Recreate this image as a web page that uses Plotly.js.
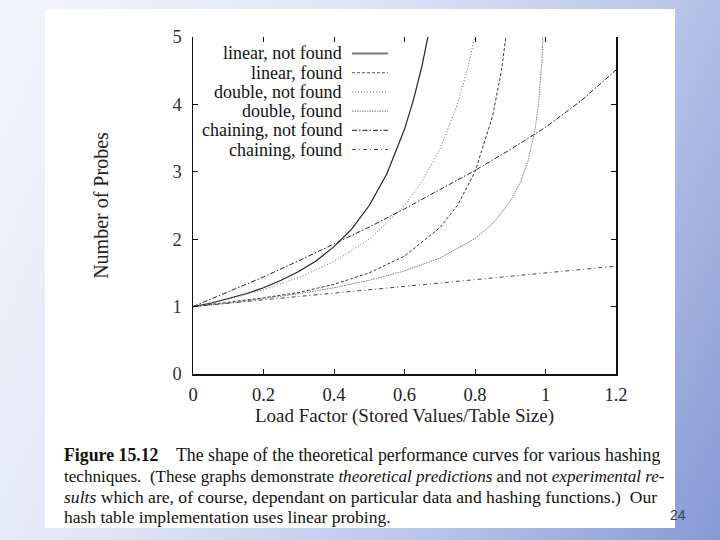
<!DOCTYPE html>
<html><head><meta charset="utf-8">
<script src="https://cdn.plot.ly/plotly-3.0.1.min.js"></script>
<style>
html,body{margin:0;padding:0;width:720px;height:540px;overflow:hidden;}
body{background:linear-gradient(115deg,#f4f5fc 0%,#e2e6f6 35%,#bcc7ea 68%,#8599d4 100%);}
#panel{position:absolute;left:45px;top:9px;width:630px;height:519px;background:#fff;}
#chart{position:absolute;left:0;top:0;width:720px;height:540px;}
</style></head><body>
<div id="panel"></div><div id="chart"></div>
<script>
// ---- data ----
const seriesNames = ['linear, not found','linear, found','double, not found','double, found','chaining, not found','chaining, found'];

const linearNotFoundX = [0,0.05,0.1,0.15,0.2,0.25,0.3,0.35,0.4,0.45,0.5,0.55,0.6,0.625,0.65,0.67];
const linearNotFoundY = [1.00,1.05,1.12,1.19,1.28,1.39,1.52,1.68,1.89,2.15,2.50,2.97,3.63,4.06,4.58,5.10];

const linearFoundX = [0,0.1,0.2,0.3,0.4,0.5,0.6,0.7,0.75,0.8,0.85,0.875,0.9];
const linearFoundY = [1.00,1.06,1.13,1.21,1.33,1.50,1.75,2.17,2.50,3.00,3.83,4.50,5.50];

const doubleNotFoundX = [0,0.1,0.2,0.3,0.4,0.5,0.6,0.65,0.7,0.75,0.78,0.81];
const doubleNotFoundY = [1.00,1.11,1.25,1.43,1.67,2.00,2.50,2.86,3.33,4.00,4.55,5.26];

const doubleFoundX = [0,0.1,0.2,0.3,0.4,0.5,0.6,0.7,0.8,0.85,0.9,0.93,0.95,0.97,0.98,0.99,0.995];
const doubleFoundY = [1.00,1.05,1.12,1.19,1.28,1.39,1.53,1.72,2.01,2.23,2.56,2.86,3.15,3.62,3.99,4.65,5.33];

const chainingNotFoundX = [0,0.1,0.2,0.3,0.4,0.5,0.6,0.7,0.8,0.9,1.0,1.1,1.2];
const chainingNotFoundY = [1.00,1.22,1.44,1.68,1.93,2.18,2.45,2.73,3.02,3.33,3.66,4.05,4.51];

const chainingFoundX = [0,0.2,0.4,0.6,0.8,1.0,1.2];
const chainingFoundY = [1.00,1.10,1.20,1.30,1.40,1.50,1.60];

const xTickVals = [0,0.2,0.4,0.6,0.8,1,1.2];
const xTickText = ['0','0.2','0.4','0.6','0.8','1','1.2'];
const yTickVals = [0,1,2,3,4,5];

const captionLines = [
  '<b>Figure 15.12</b>\u00a0\u00a0\u00a0 The shape of the theoretical performance curves for various hashing',
  'techniques.\u00a0 (These graphs demonstrate <i>theoretical predictions</i> and not <i>experimental re-</i>',
  '<i>sults</i> which are, of course, dependant on particular data and hashing functions.)\u00a0 Our',
  'hash table implementation uses linear probing.'
];
const captionSizes = [17.8, 17.1, 17.6, 17.5];

// ---- styling ----
const styles = [
  {color:'#222', width:1.2, dash:'solid', legColor:'#777', legWidth:2.2},
  {color:'#333', width:1.0, dash:'3px,2px', legColor:'#555', legWidth:1},
  {color:'#666', width:1.0, dash:'1px,2px', legColor:'#666', legWidth:1},
  {color:'#777', width:1.0, dash:'1.5px,1px', legColor:'#777', legWidth:1},
  {color:'#222', width:1.0, dash:'5px,2px,1.5px,2px', legColor:'#444', legWidth:1.2},
  {color:'#444', width:1.0, dash:'4px,3px,1px,3px', legColor:'#555', legWidth:1}
];
const xs = [linearNotFoundX,linearFoundX,doubleNotFoundX,doubleFoundX,chainingNotFoundX,chainingFoundX];
const ys = [linearNotFoundY,linearFoundY,doubleNotFoundY,doubleFoundY,chainingNotFoundY,chainingFoundY];

const traces = seriesNames.map((n,i)=>({
  type:'scatter', mode:'lines', name:n, x:xs[i], y:ys[i],
  line:{color:styles[i].color, width:styles[i].width, dash:styles[i].dash},
  hoverinfo:'skip', showlegend:false
}));
// invisible trace so the mirrored top tick axis is drawn
traces.push({type:'scatter', mode:'lines', x:[0,1.2], y:[0,0], xaxis:'x2', yaxis:'y', line:{width:0}, hoverinfo:'skip', showlegend:false, opacity:0});

const M = {l:193, r:104, t:37, b:166};
const PW = 720 - M.l - M.r, PH = 540 - M.t - M.b;
const px2x = p => (p - M.l) / PW;
const py2y = p => (540 - M.b - p) / PH;

const annotations = [];
const shapes = [];
const legRows = [53.5, 72.7, 91.9, 111.1, 130.3, 149.5];
seriesNames.forEach((n,i)=>{
  annotations.push({xref:'paper', yref:'paper', x:px2x(344), y:py2y(legRows[i]), xanchor:'right', yanchor:'middle',
    text:n, showarrow:false, font:{family:'"Liberation Serif", serif', size:18, color:'#111'}});
  shapes.push({type:'line', xref:'paper', yref:'paper', x0:px2x(352), x1:px2x(388), y0:py2y(legRows[i]), y1:py2y(legRows[i]),
    line:{color:styles[i].legColor, width:styles[i].legWidth, dash:styles[i].dash}});
});
const capRows = [455, 476, 497, 517];
captionLines.forEach((t,i)=>{
  annotations.push({xref:'paper', yref:'paper', x:px2x(62), y:py2y(capRows[i]), xanchor:'left', yanchor:'middle',
    text:t, showarrow:false, font:{family:'"Liberation Serif", serif', size:captionSizes[i], color:'#111'}});
});
annotations.push({xref:'paper', yref:'paper', x:px2x(678), y:py2y(515), xanchor:'center', yanchor:'middle',
  text:'24', showarrow:false, font:{family:'"Liberation Sans", sans-serif', size:14, color:'#3a3f55'}});

const layout = {
  width:720, height:540,
  paper_bgcolor:'rgba(0,0,0,0)', plot_bgcolor:'rgba(0,0,0,0)',
  margin:M, showlegend:false,
  font:{family:'"Liberation Serif", serif', size:18, color:'#222'},
  xaxis:{range:[0,1.2], tickvals:xTickVals, ticktext:xTickText, ticks:'inside', ticklen:5, tickwidth:1, tickcolor:'#111',
    showline:true, linecolor:'#111', linewidth:1.5, showgrid:false, zeroline:false, automargin:false,
    ticklabelstandoff:3, tickfont:{size:18.5, color:'#222'},
    title:{text:'Load Factor (Stored Values/Table Size)', standoff:0, font:{size:19, color:'#222'}}},
  xaxis2:{overlaying:'x', side:'top', range:[0,1.2], tickvals:xTickVals, ticks:'inside', ticklen:5, tickwidth:1, tickcolor:'#111',
    showticklabels:false, showline:false, showgrid:false, zeroline:false},
  yaxis:{range:[0,5], tickvals:yTickVals, ticks:'inside', ticklen:5, tickwidth:1, tickcolor:'#111',
    showline:true, mirror:'ticks', linecolor:'#111', linewidth:1.5, showgrid:false, zeroline:false, automargin:false,
    ticklabelstandoff:6, tickfont:{size:18.5, color:'#333'},
    title:{text:'Number of Probes', standoff:58, font:{size:20, color:'#222'}}},
  annotations:annotations, shapes:shapes
};
Plotly.newPlot('chart', traces, layout, {displayModeBar:false, staticPlot:true});
</script></body></html>
